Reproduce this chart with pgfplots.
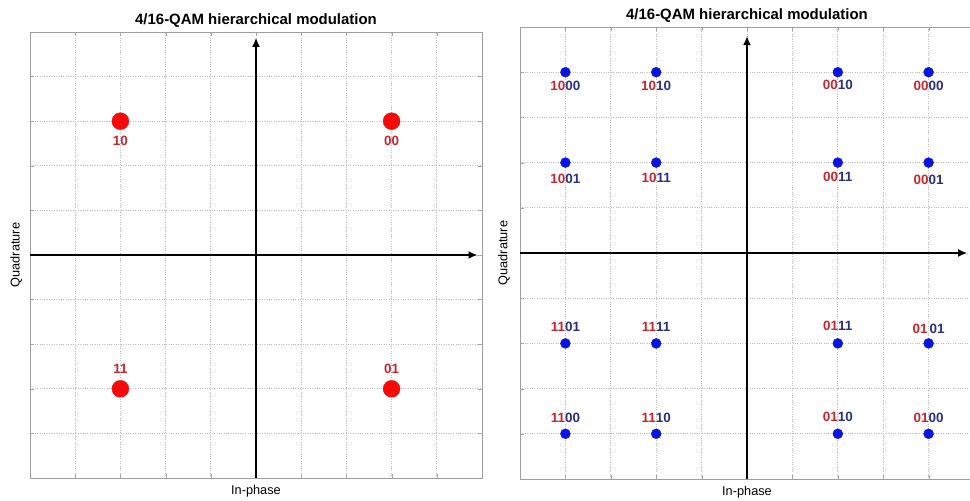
\documentclass[border=0pt]{standalone}
\usepackage{fontspec}
\setmainfont{Liberation Sans}
\usepackage{pgfplots}
\pgfplotsset{compat=1.18}
\usetikzlibrary{arrows.meta}

\definecolor{lblred}{HTML}{C4272F}
\definecolor{lblblue}{HTML}{28307F}
\definecolor{mkred}{HTML}{F50A0A}
\definecolor{mkblue}{HTML}{0A14E0}

\pgfplotsset{
  qam/.style={
    scale only axis,
    xmin=-5, xmax=5, ymin=-5, ymax=5,
    xtick={-5,...,5}, ytick={-5,...,5},
    xticklabels={}, yticklabels={},
    grid=major,
    major grid style={gray!50, dotted, line width=0.7pt},
    tick align=inside, major tick length=4pt,
    tick style={gray!70},
    axis line style={gray!75, line width=0.8pt},
    title={4/16-QAM hierarchical modulation},
    title style={font=\bfseries\fontsize{15}{17}\selectfont, at={(0.5,1)}, anchor=base, yshift=1.5pt},
    xlabel={In-phase},
    ylabel={Quadrature},
    label style={font=\fontsize{12.8}{14}\selectfont},
    xlabel style={at={(0.5,0)}, anchor=base, yshift=-16.5pt},
    clip=false,
  },
}
\tikzset{
  bigarrow/.style={line width=2.8pt, -{Latex[length=9pt, width=8pt]}},
  lab/.style={font=\bfseries\fontsize{13.5}{15}\selectfont, inner sep=0pt},
}

\begin{document}
\begin{tikzpicture}
\useasboundingbox (0bp,0bp) rectangle (970bp,501bp);

% left: 4-QAM base layer
\begin{axis}[qam, at={(30bp,23bp)}, anchor=south west, width=452bp, height=446bp,
  ylabel style={at={(axis description cs:-0.023,0.5)}, anchor=base}]
\draw[bigarrow] (axis cs:-5,0) -- (axis cs:4.9,0);
\draw[bigarrow] (axis cs:0,-5) -- (axis cs:0,4.87);
\addplot[only marks, mark=*, mark size=8.5pt, color=mkred] coordinates {(-3,3) (3,3) (-3,-3) (3,-3)};
\node[lab, lblred, yshift=-20pt] at (axis cs:-3,3) {10};
\node[lab, lblred, yshift=-20pt] at (axis cs:3,3) {00};
\node[lab, lblred, yshift=20pt] at (axis cs:-3,-3) {11};
\node[lab, lblred, yshift=20pt] at (axis cs:3,-3) {01};
\end{axis}

% right: 16-QAM
\begin{axis}[qam, at={(520bp,22bp)}, anchor=south west, width=454bp, height=452bp,
  ylabel style={at={(axis description cs:-0.028,0.5)}, anchor=base},
  lab/.append style={font=\bfseries\fontsize{14}{15}\selectfont}]
\draw[bigarrow] (axis cs:-5,0) -- (axis cs:4.85,0);
\draw[bigarrow] (axis cs:0,-5) -- (axis cs:0,4.8);
\addplot[only marks, mark=*, mark size=5pt, color=mkblue] coordinates {
  (-4,4) (-2,4) (2,4) (4,4)
  (-4,2) (-2,2) (2,2) (4,2)
  (-4,-2) (-2,-2) (2,-2) (4,-2)
  (-4,-4) (-2,-4) (2,-4) (4,-4)};
\node[lab, yshift=-14pt] at (axis cs:-4,4) {\textcolor{lblred}{10}\textcolor{lblblue}{00}};
\node[lab, yshift=-14pt] at (axis cs:-2,4) {\textcolor{lblred}{10}\textcolor{lblblue}{10}};
\node[lab, yshift=-13pt] at (axis cs:2,4) {\textcolor{lblred}{00}\textcolor{lblblue}{10}};
\node[lab, yshift=-14pt] at (axis cs:4,4) {\textcolor{lblred}{00}\textcolor{lblblue}{00}};
\node[lab, yshift=-16pt] at (axis cs:-4,2) {\textcolor{lblred}{10}\textcolor{lblblue}{01}};
\node[lab, yshift=-15pt] at (axis cs:-2,2) {\textcolor{lblred}{10}\textcolor{lblblue}{11}};
\node[lab, yshift=-14pt] at (axis cs:2,2) {\textcolor{lblred}{00}\textcolor{lblblue}{11}};
\node[lab, yshift=-17pt] at (axis cs:4,2) {\textcolor{lblred}{00}\textcolor{lblblue}{01}};
\node[lab, yshift=17pt] at (axis cs:-4,-2) {\textcolor{lblred}{11}\textcolor{lblblue}{01}};
\node[lab, yshift=17pt] at (axis cs:-2,-2) {\textcolor{lblred}{11}\textcolor{lblblue}{11}};
\node[lab, yshift=18pt] at (axis cs:2,-2) {\textcolor{lblred}{01}\textcolor{lblblue}{11}};
\node[lab, yshift=15pt] at (axis cs:4,-2) {\textcolor{lblred}{01}\,\textcolor{lblblue}{01}};
\node[lab, yshift=16pt] at (axis cs:-4,-4) {\textcolor{lblred}{11}\textcolor{lblblue}{00}};
\node[lab, yshift=16pt] at (axis cs:-2,-4) {\textcolor{lblred}{11}\textcolor{lblblue}{10}};
\node[lab, yshift=17pt] at (axis cs:2,-4) {\textcolor{lblred}{01}\textcolor{lblblue}{10}};
\node[lab, yshift=16pt] at (axis cs:4,-4) {\textcolor{lblred}{01}\textcolor{lblblue}{00}};
\end{axis}
\end{tikzpicture}
\end{document}
